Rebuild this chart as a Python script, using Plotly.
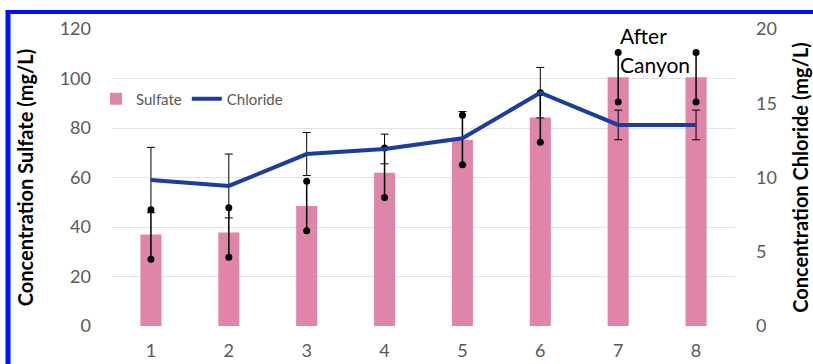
import plotly.graph_objects as go
from plotly.subplots import make_subplots

# Sampling sites and measured concentrations
sites = [1, 2, 3, 4, 5, 6, 7, 8]
sulfate = [37.0, 37.8, 48.5, 61.9, 75.2, 84.2, 100.5, 100.5]        # mg/L
sulfate_err = [10, 10, 10, 10, 10, 10, 10, 10]
chloride = [9.83, 9.43, 11.58, 11.92, 12.64, 15.71, 13.54, 13.54]    # mg/L
chloride_err = [2.2, 2.15, 1.45, 1.0, 1.8, 1.7, 1.0, 1.0]

left_ticks = [0, 20, 40, 60, 80, 100, 120]
right_ticks = [0, 5, 10, 15, 20]

FONT = "Lato"
GRAY = "#595959"
PINK = "#df85a9"
BLUE = "#1b3d9c"

# plot-area geometry in pixels (used for paper-coordinate decorations)
W, H = 813, 364
L, R, T, B = 112, 78, 29, 38
PW, PH = W - L - R, H - T - B


def px_x(px):
    return (px - L) / PW


def px_y(py):
    return (H - B - py) / PH


fig = make_subplots(specs=[[{"secondary_y": True}]])

fig.add_trace(go.Bar(
    x=sites, y=sulfate, name="Sulfate", width=0.27,
    marker=dict(color=PINK, line=dict(width=0)),
    error_y=dict(type="data", array=sulfate_err, color="black",
                 thickness=1.5, width=0),
), secondary_y=False)

# rounded ends of the sulfate error bars
fig.add_trace(go.Scatter(
    x=sites + sites,
    y=[v + e for v, e in zip(sulfate, sulfate_err)] +
      [v - e for v, e in zip(sulfate, sulfate_err)],
    mode="markers", marker=dict(color="black", size=7, symbol="circle"),
    showlegend=False, hoverinfo="skip",
), secondary_y=False)

fig.add_trace(go.Scatter(
    x=sites, y=chloride, name="Chloride", mode="lines",
    line=dict(color=BLUE, width=4),
    error_y=dict(type="data", array=chloride_err, color="black",
                 thickness=1, width=4),
), secondary_y=True)

fig.update_xaxes(
    domain=[0, 1],
    range=[0.5, 8.5], tickvals=sites, ticktext=[str(s) for s in sites],
    showgrid=False, showline=False, zeroline=False, ticks="",
    tickfont=dict(family=FONT, size=18, color=GRAY), ticklabelstandoff=12,
)
fig.update_yaxes(
    range=[0, 120], tickvals=left_ticks, showgrid=True, gridcolor="#e2e2e2",
    gridwidth=1, zeroline=False, showline=False, ticks="",
    tickfont=dict(family=FONT, size=18, color=GRAY), ticklabelstandoff=20,
    title=dict(text="<b>Concentration Sulfate (mg/L)</b>",
               font=dict(family=FONT, size=20, color="black"), standoff=20),
    secondary_y=False,
)
fig.update_yaxes(
    range=[0, 20], tickvals=right_ticks, showgrid=False, zeroline=False,
    showline=False, ticks="",
    tickfont=dict(family=FONT, size=18, color=GRAY), ticklabelstandoff=20,
    title=dict(text="<b>Concentration Chloride (mg/L)</b>",
               font=dict(family=FONT, size=20, color="black"), standoff=18),
    secondary_y=True,
)

fig.add_annotation(text="After", x=7, y=117.4, xref="x", yref="y",
                   xanchor="left", yanchor="middle", xshift=0, showarrow=False,
                   font=dict(family=FONT, size=21, color="black"))
fig.add_annotation(text="Canyon", x=7, y=105.5, xref="x", yref="y",
                   xanchor="left", yanchor="middle", xshift=0, showarrow=False,
                   font=dict(family=FONT, size=21, color="black"))

# blue frame along the top and left edges
fig.add_shape(type="line", xref="paper", yref="paper",
              x0=px_x(6), x1=px_x(W + 2), y0=px_y(12), y1=px_y(12),
              line=dict(color="#0010ff", width=4), layer="above")
fig.add_shape(type="line", xref="paper", yref="paper",
              x0=px_x(8), x1=px_x(8), y0=px_y(10), y1=px_y(H + 2),
              line=dict(color="#0010ff", width=5), layer="above")

fig.update_layout(
    width=W, height=H,
    margin=dict(l=L, r=R, t=T, b=B, autoexpand=False),
    paper_bgcolor="white", plot_bgcolor="white",
    bargap=0.7,
    legend=dict(orientation="h", x=px_x(96), y=px_y(99), xanchor="left",
                yanchor="middle", font=dict(family=FONT, size=15, color=GRAY),
                bgcolor="rgba(0,0,0,0)", itemwidth=30, tracegroupgap=0),
    showlegend=True,
)

fig.write_html("out.html")
